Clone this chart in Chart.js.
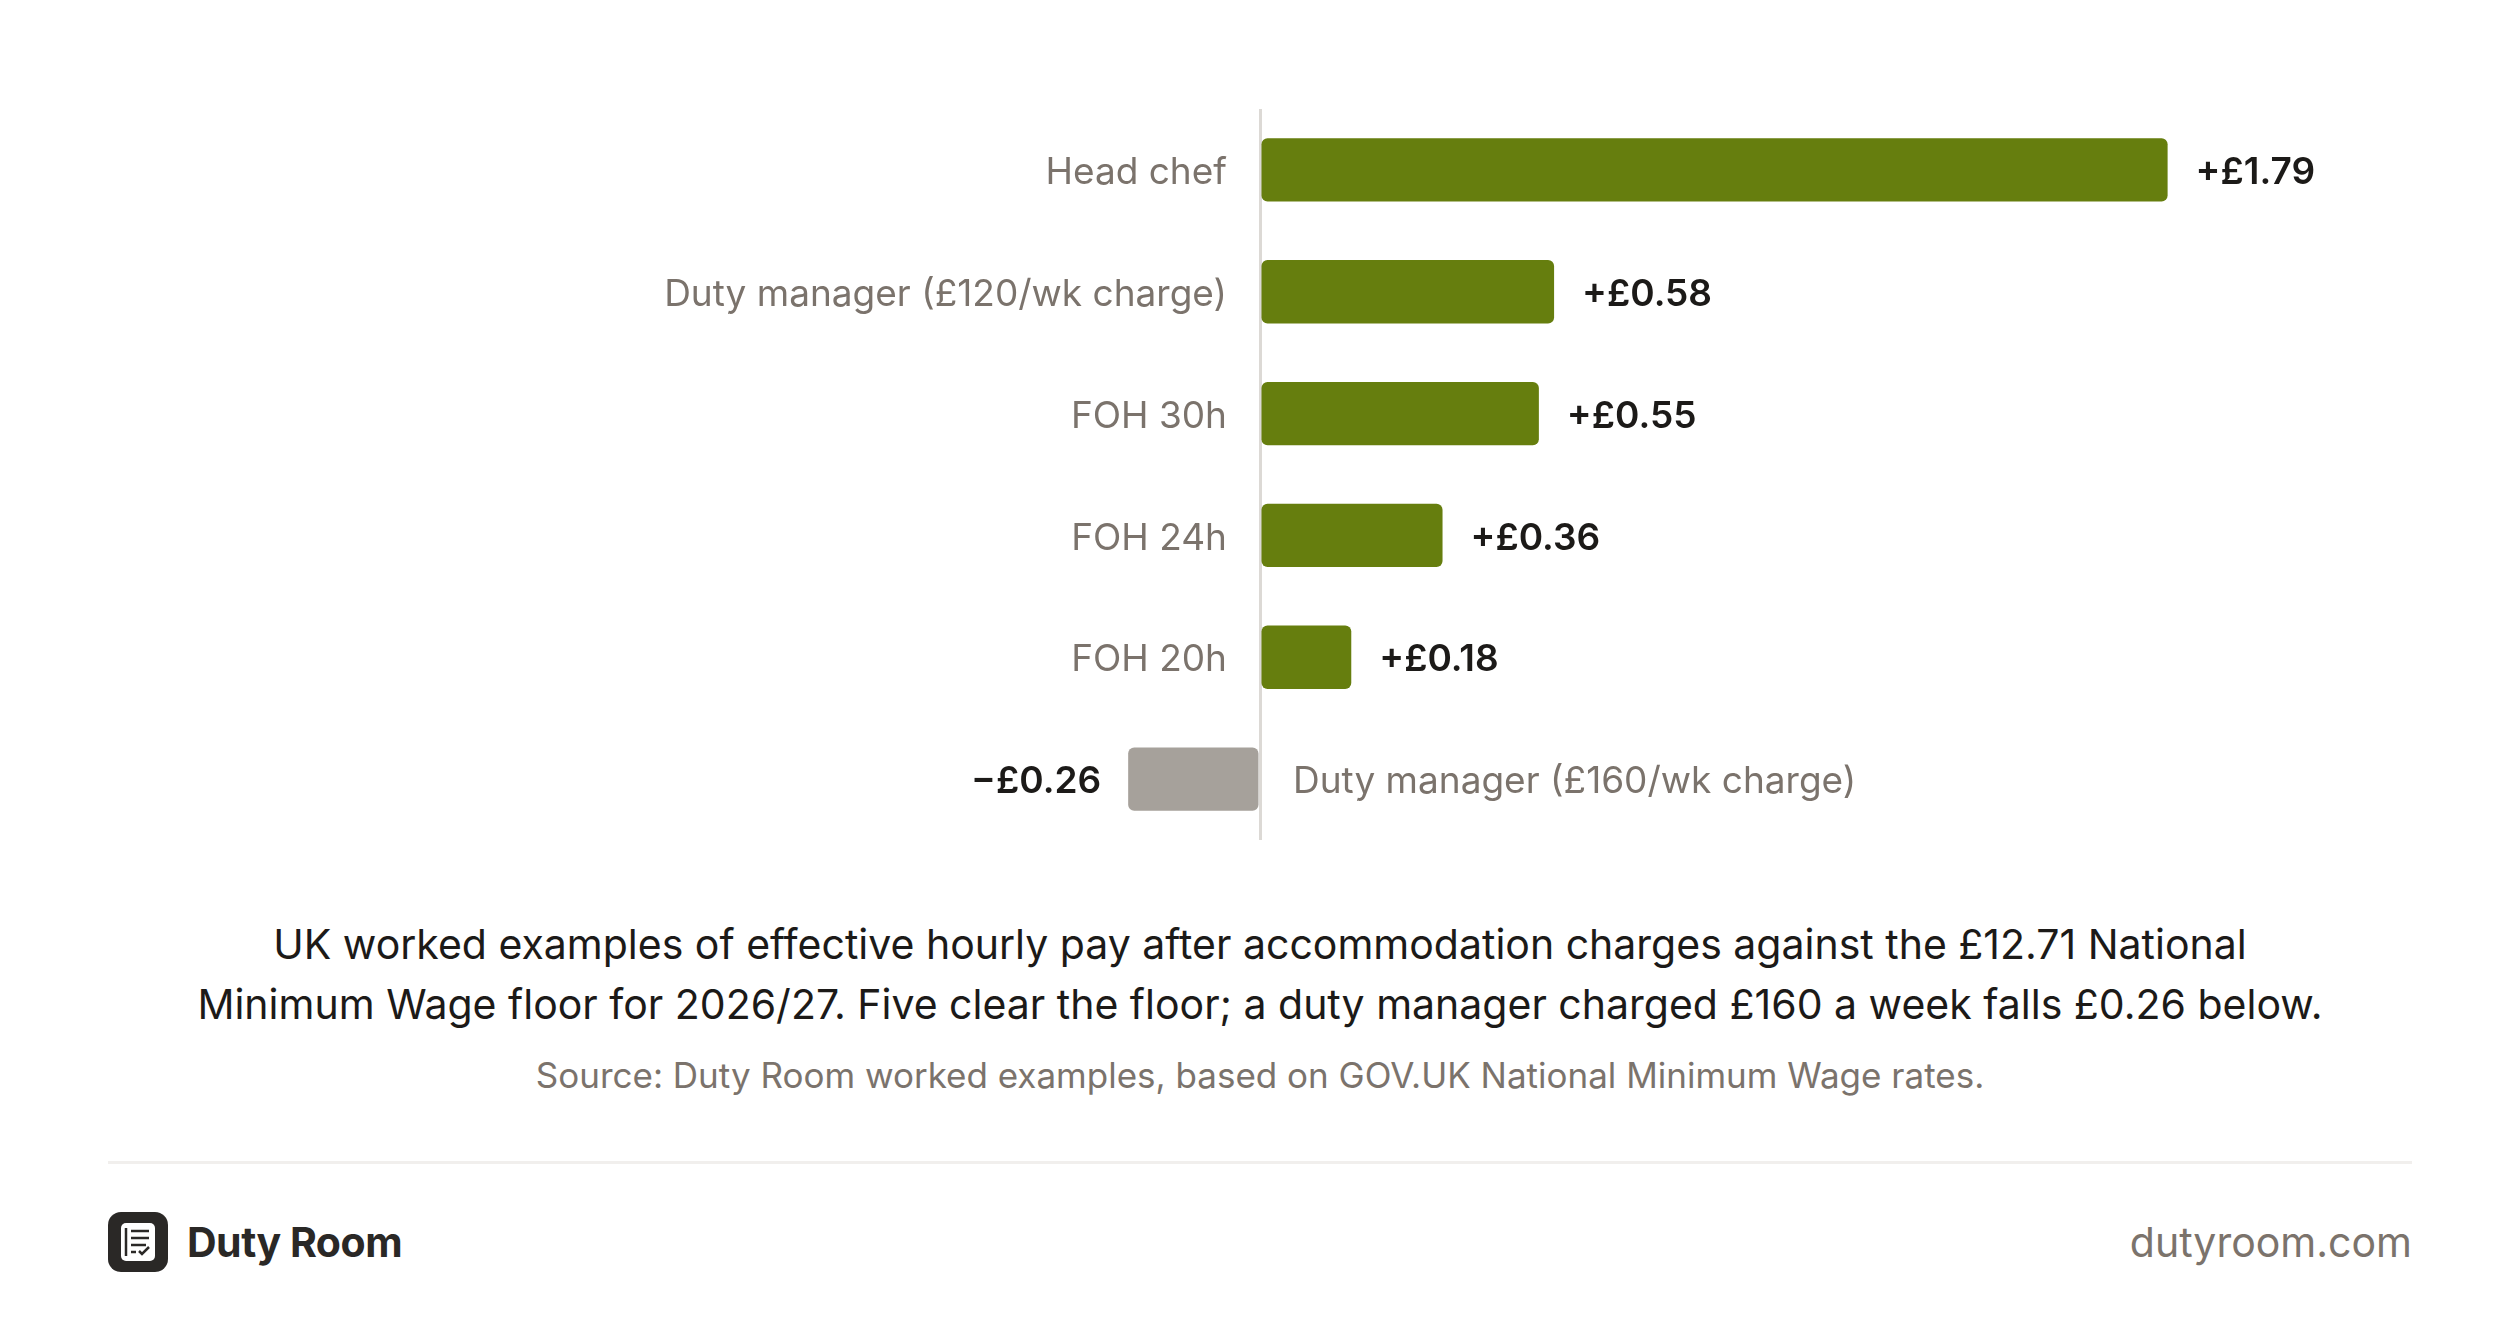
<!DOCTYPE html>
<html>
<head>
<meta charset="utf-8">
<script src="https://cdn.jsdelivr.net/npm/chart.js@4/dist/chart.umd.min.js"></script>
<style>
  html, body { margin: 0; padding: 0; background: #fff; }
  body { width: 2520px; height: 1332px; position: relative; overflow: hidden; font-family: Inter, "Noto Sans", sans-serif; }
  #wrap { position: absolute; left: 0; top: 0; width: 2520px; height: 900px; }
  .caption { position: absolute; left: 0; width: 2520px; text-align: center; color: #1c1a18; font-size: 41px; line-height: 60px; top: 914px; }
  .source { position: absolute; left: 0; width: 2520px; text-align: center; color: #7b736c; font-size: 35px; top: 1054px; }
  .rule { position: absolute; left: 108px; width: 2304px; top: 1161px; height: 3px; background: #f1efed; }
  .brand { position: absolute; left: 108px; top: 1212px; height: 60px; display: flex; align-items: center; }
  .brand span { margin-left: 19px; font-size: 41px; font-weight: 700; color: #2a2826; letter-spacing: -0.5px; }
  .site { position: absolute; right: 108px; top: 1217px; font-size: 41px; color: #7b736c; }
</style>
</head>
<body>
<div id="wrap"><canvas id="chart"></canvas></div>
<div class="caption">UK worked examples of effective hourly pay after accommodation charges against the £12.71 National<br>Minimum Wage floor for 2026/27. Five clear the floor; a duty manager charged £160 a week falls £0.26 below.</div>
<div class="source">Source: Duty Room worked examples, based on GOV.UK National Minimum Wage rates.</div>
<div class="rule"></div>
<div class="brand">
  <svg width="60" height="60" viewBox="0 0 60 60">
    <rect x="0" y="0" width="60" height="60" rx="13" fill="#2a2826"/>
    <rect x="13" y="11" width="34" height="38" rx="5" fill="#fff"/>
    <line x1="18" y1="16" x2="18" y2="44" stroke="#2a2826" stroke-width="2.5"/>
    <line x1="23" y1="19" x2="41" y2="19" stroke="#2a2826" stroke-width="2.5"/>
    <line x1="23" y1="26" x2="41" y2="26" stroke="#2a2826" stroke-width="2.5"/>
    <line x1="23" y1="33" x2="38" y2="33" stroke="#2a2826" stroke-width="2.5"/>
    <line x1="23" y1="40" x2="28" y2="40" stroke="#2a2826" stroke-width="2.5"/>
    <polyline points="31,39 34,42 41,35" fill="none" stroke="#2a2826" stroke-width="2.5"/>
  </svg>
  <span>Duty Room</span>
</div>
<div class="site">dutyroom.com</div>
<script>
var categories = ['Head chef', 'Duty manager (£120/wk charge)', 'FOH 30h', 'FOH 24h', 'FOH 20h', 'Duty manager (£160/wk charge)'];
var margins = [1.79, 0.58, 0.55, 0.36, 0.18, -0.26];
var valueLabels = ['+£1.79', '+£0.58', '+£0.55', '+£0.36', '+£0.18', '\u2212£0.26'];

var green = '#667e0e';
var grey = '#a6a19b';

// labels drawn next to each bar, category on the opposite side of zero
var barLabels = {
    id: 'barLabels',
    afterDatasetsDraw: function (chart) {
        var ctx = chart.ctx;
        var zeroX = chart.scales.x.getPixelForValue(0);
        var bars = chart.getDatasetMeta(0).data;
        ctx.save();
        ctx.textBaseline = 'middle';
        bars.forEach(function (bar, i) {
            var v = margins[i];
            var y = bar.y + 3;
            if (v >= 0) {
                ctx.font = '400 37px Inter, "Noto Sans", sans-serif';
                ctx.fillStyle = '#7b736c';
                ctx.textAlign = 'right';
                ctx.fillText(categories[i], zeroX - 33, y);
                ctx.font = '600 37px Inter, "Noto Sans", sans-serif';
                ctx.fillStyle = '#1c1a18';
                ctx.textAlign = 'left';
                ctx.fillText(valueLabels[i], bar.x + 28, y);
            } else {
                ctx.font = '400 37px Inter, "Noto Sans", sans-serif';
                ctx.fillStyle = '#7b736c';
                ctx.textAlign = 'left';
                ctx.fillText(categories[i], zeroX + 33, y);
                ctx.font = '600 37px Inter, "Noto Sans", sans-serif';
                ctx.fillStyle = '#1c1a18';
                ctx.textAlign = 'right';
                ctx.fillText(valueLabels[i], bar.x - 27, y);
            }
        });
        ctx.restore();
    }
};

new Chart(document.getElementById('chart'), {
    type: 'bar',
    data: {
        labels: categories,
        datasets: [{
            data: margins,
            backgroundColor: margins.map(function (v) { return v < 0 ? grey : green; }),
            borderRadius: 6,
            borderSkipped: false,
            barPercentage: 0.52,
            categoryPercentage: 1
        }]
    },
    options: {
        indexAxis: 'y',
        responsive: true,
        maintainAspectRatio: false,
        animation: false,
        layout: { padding: { top: 109, bottom: 60, left: 0, right: 0 } },
        plugins: {
            legend: { display: false },
            tooltip: { enabled: false }
        },
        scales: {
            x: {
                min: -2.485,
                max: 2.485,
                ticks: { display: false, stepSize: 2.485 },
                border: { display: false },
                grid: {
                    drawTicks: false,
                    lineWidth: 3,
                    color: function (c) { return c.tick && c.tick.value === 0 ? '#dcd9d5' : 'rgba(0,0,0,0)'; }
                }
            },
            y: {
                display: false
            }
        }
    },
    plugins: [barLabels]
});
</script>
</body>
</html>
